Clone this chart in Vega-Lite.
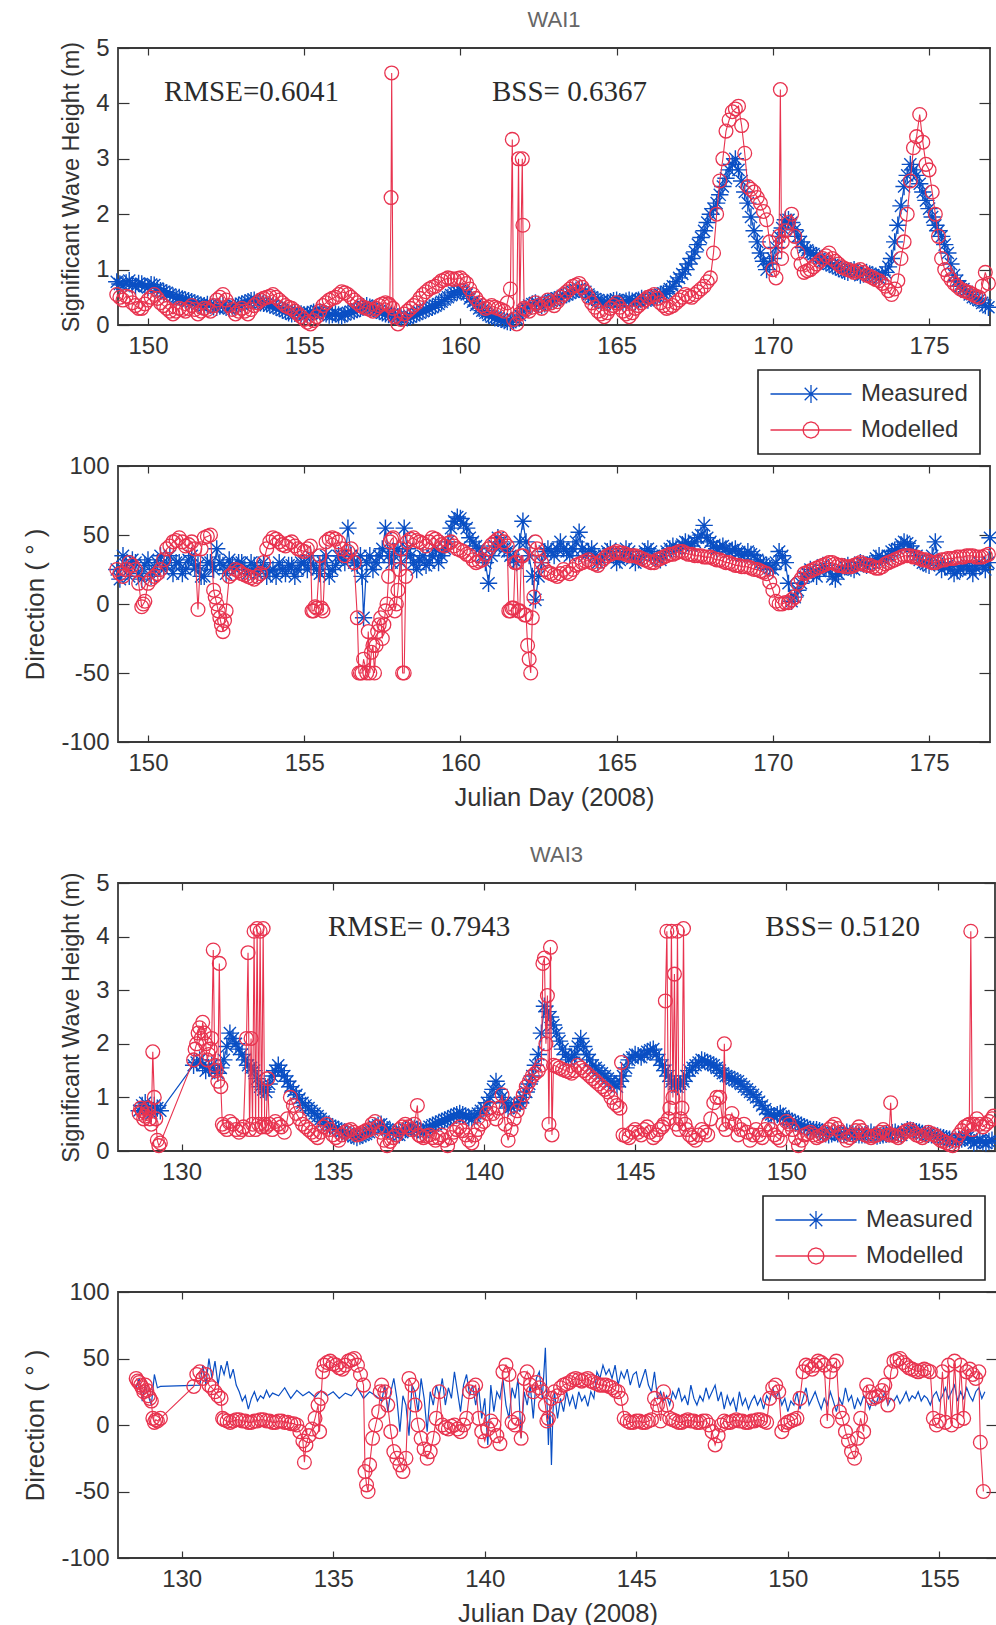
{
"$schema":"https://vega.github.io/schema/vega-lite/v6.json",
"background":"white",
"padding":{"left":22,"top":8,"right":2,"bottom":2},
"spacing":141,
"bounds":"flush",
"resolve":{"scale":{"color":"independent"},"legend":{"color":"independent"}},
"datasets":{
"h1m":[{"d":149,"v":0.78},{"d":149.1,"v":0.74},{"d":149.2,"v":0.72},{"d":149.3,"v":0.76},{"d":149.4,"v":0.8},{"d":149.5,"v":0.73},{"d":149.6,"v":0.7},{"d":149.7,"v":0.75},{"d":149.8,"v":0.74},{"d":149.9,"v":0.7},{"d":150,"v":0.68},{"d":150.1,"v":0.73},{"d":150.2,"v":0.72},{"d":150.3,"v":0.66},{"d":150.4,"v":0.62},{"d":150.5,"v":0.6},{"d":150.6,"v":0.58},{"d":150.7,"v":0.55},{"d":150.8,"v":0.52},{"d":150.9,"v":0.5},{"d":151,"v":0.5},{"d":151.1,"v":0.47},{"d":151.2,"v":0.45},{"d":151.3,"v":0.44},{"d":151.4,"v":0.42},{"d":151.5,"v":0.4},{"d":151.6,"v":0.38},{"d":151.7,"v":0.36},{"d":151.8,"v":0.35},{"d":151.9,"v":0.37},{"d":152,"v":0.36},{"d":152.1,"v":0.33},{"d":152.2,"v":0.32},{"d":152.3,"v":0.34},{"d":152.4,"v":0.35},{"d":152.5,"v":0.32},{"d":152.6,"v":0.3},{"d":152.7,"v":0.33},{"d":152.8,"v":0.34},{"d":152.9,"v":0.36},{"d":153,"v":0.38},{"d":153.1,"v":0.4},{"d":153.2,"v":0.42},{"d":153.3,"v":0.44},{"d":153.4,"v":0.45},{"d":153.5,"v":0.42},{"d":153.6,"v":0.4},{"d":153.7,"v":0.39},{"d":153.8,"v":0.38},{"d":153.9,"v":0.36},{"d":154,"v":0.35},{"d":154.1,"v":0.32},{"d":154.2,"v":0.3},{"d":154.3,"v":0.27},{"d":154.4,"v":0.25},{"d":154.5,"v":0.22},{"d":154.6,"v":0.2},{"d":154.7,"v":0.21},{"d":154.8,"v":0.22},{"d":154.9,"v":0.2},{"d":155,"v":0.18},{"d":155.1,"v":0.19},{"d":155.2,"v":0.2},{"d":155.3,"v":0.23},{"d":155.4,"v":0.25},{"d":155.5,"v":0.24},{"d":155.6,"v":0.22},{"d":155.7,"v":0.2},{"d":155.8,"v":0.18},{"d":155.9,"v":0.19},{"d":156,"v":0.2},{"d":156.1,"v":0.18},{"d":156.2,"v":0.16},{"d":156.3,"v":0.19},{"d":156.4,"v":0.22},{"d":156.5,"v":0.24},{"d":156.6,"v":0.25},{"d":156.7,"v":0.28},{"d":156.8,"v":0.3},{"d":156.9,"v":0.33},{"d":157,"v":0.35},{"d":157.1,"v":0.32},{"d":157.2,"v":0.3},{"d":157.3,"v":0.27},{"d":157.4,"v":0.25},{"d":157.5,"v":0.22},{"d":157.6,"v":0.2},{"d":157.7,"v":0.19},{"d":157.8,"v":0.18},{"d":157.9,"v":0.16},{"d":158,"v":0.15},{"d":158.1,"v":0.13},{"d":158.2,"v":0.12},{"d":158.3,"v":0.13},{"d":158.4,"v":0.15},{"d":158.5,"v":0.18},{"d":158.6,"v":0.2},{"d":158.7,"v":0.22},{"d":158.8,"v":0.25},{"d":158.9,"v":0.28},{"d":159,"v":0.3},{"d":159.1,"v":0.32},{"d":159.2,"v":0.35},{"d":159.3,"v":0.38},{"d":159.4,"v":0.42},{"d":159.5,"v":0.46},{"d":159.6,"v":0.5},{"d":159.7,"v":0.54},{"d":159.8,"v":0.58},{"d":159.9,"v":0.6},{"d":160,"v":0.62},{"d":160.1,"v":0.6},{"d":160.2,"v":0.55},{"d":160.3,"v":0.48},{"d":160.4,"v":0.42},{"d":160.5,"v":0.36},{"d":160.6,"v":0.3},{"d":160.7,"v":0.26},{"d":160.8,"v":0.22},{"d":160.9,"v":0.18},{"d":161,"v":0.15},{"d":161.1,"v":0.13},{"d":161.2,"v":0.12},{"d":161.3,"v":0.1},{"d":161.4,"v":0.08},{"d":161.5,"v":0.06},{"d":161.6,"v":0.05},{"d":161.7,"v":0.08},{"d":161.8,"v":0.12},{"d":161.9,"v":0.18},{"d":162,"v":0.25},{"d":162.1,"v":0.3},{"d":162.2,"v":0.35},{"d":162.3,"v":0.38},{"d":162.4,"v":0.4},{"d":162.5,"v":0.37},{"d":162.6,"v":0.35},{"d":162.7,"v":0.38},{"d":162.8,"v":0.42},{"d":162.9,"v":0.44},{"d":163,"v":0.45},{"d":163.1,"v":0.48},{"d":163.2,"v":0.5},{"d":163.3,"v":0.52},{"d":163.4,"v":0.55},{"d":163.5,"v":0.58},{"d":163.6,"v":0.6},{"d":163.7,"v":0.63},{"d":163.8,"v":0.65},{"d":163.9,"v":0.63},{"d":164,"v":0.6},{"d":164.1,"v":0.55},{"d":164.2,"v":0.5},{"d":164.3,"v":0.47},{"d":164.4,"v":0.45},{"d":164.5,"v":0.42},{"d":164.6,"v":0.4},{"d":164.7,"v":0.41},{"d":164.8,"v":0.42},{"d":164.9,"v":0.44},{"d":165,"v":0.45},{"d":165.1,"v":0.42},{"d":165.2,"v":0.4},{"d":165.3,"v":0.43},{"d":165.4,"v":0.45},{"d":165.5,"v":0.43},{"d":165.6,"v":0.42},{"d":165.7,"v":0.45},{"d":165.8,"v":0.48},{"d":165.9,"v":0.46},{"d":166,"v":0.45},{"d":166.1,"v":0.48},{"d":166.2,"v":0.5},{"d":166.3,"v":0.52},{"d":166.4,"v":0.55},{"d":166.5,"v":0.57},{"d":166.6,"v":0.6},{"d":166.7,"v":0.65},{"d":166.8,"v":0.7},{"d":166.9,"v":0.78},{"d":167,"v":0.85},{"d":167.1,"v":0.92},{"d":167.2,"v":1},{"d":167.3,"v":1.1},{"d":167.4,"v":1.2},{"d":167.5,"v":1.32},{"d":167.6,"v":1.45},{"d":167.7,"v":1.58},{"d":167.8,"v":1.7},{"d":167.9,"v":1.85},{"d":168,"v":2},{"d":168.1,"v":2.1},{"d":168.2,"v":2.2},{"d":168.3,"v":2.35},{"d":168.4,"v":2.5},{"d":168.5,"v":2.65},{"d":168.6,"v":2.8},{"d":168.7,"v":2.9},{"d":168.8,"v":3},{"d":168.9,"v":2.8},{"d":169,"v":2.6},{"d":169.1,"v":2.4},{"d":169.2,"v":2.2},{"d":169.3,"v":1.95},{"d":169.4,"v":1.7},{"d":169.5,"v":1.5},{"d":169.6,"v":1.3},{"d":169.7,"v":1.15},{"d":169.8,"v":1},{"d":169.9,"v":1.1},{"d":170,"v":1.2},{"d":170.1,"v":1.4},{"d":170.2,"v":1.6},{"d":170.3,"v":1.75},{"d":170.4,"v":1.9},{"d":170.5,"v":1.9},{"d":170.6,"v":1.85},{"d":170.7,"v":1.72},{"d":170.8,"v":1.6},{"d":170.9,"v":1.5},{"d":171,"v":1.4},{"d":171.1,"v":1.35},{"d":171.2,"v":1.3},{"d":171.3,"v":1.28},{"d":171.4,"v":1.25},{"d":171.5,"v":1.2},{"d":171.6,"v":1.15},{"d":171.7,"v":1.12},{"d":171.8,"v":1.1},{"d":171.9,"v":1.08},{"d":172,"v":1.05},{"d":172.1,"v":1.02},{"d":172.2,"v":1},{"d":172.3,"v":0.97},{"d":172.4,"v":0.95},{"d":172.5,"v":0.98},{"d":172.6,"v":1},{"d":172.7,"v":0.95},{"d":172.8,"v":0.9},{"d":172.9,"v":0.92},{"d":173,"v":0.95},{"d":173.1,"v":0.92},{"d":173.2,"v":0.9},{"d":173.3,"v":0.88},{"d":173.4,"v":0.85},{"d":173.5,"v":0.9},{"d":173.6,"v":0.95},{"d":173.7,"v":1.05},{"d":173.8,"v":1.2},{"d":173.9,"v":1.5},{"d":174,"v":1.8},{"d":174.1,"v":2.15},{"d":174.2,"v":2.5},{"d":174.3,"v":2.7},{"d":174.4,"v":2.9},{"d":174.5,"v":2.8},{"d":174.6,"v":2.7},{"d":174.7,"v":2.55},{"d":174.8,"v":2.4},{"d":174.9,"v":2.25},{"d":175,"v":2.1},{"d":175.1,"v":1.95},{"d":175.2,"v":1.8},{"d":175.3,"v":1.7},{"d":175.4,"v":1.6},{"d":175.5,"v":1.45},{"d":175.6,"v":1.3},{"d":175.7,"v":1.1},{"d":175.8,"v":0.9},{"d":175.9,"v":0.8},{"d":176,"v":0.7},{"d":176.1,"v":0.65},{"d":176.2,"v":0.6},{"d":176.3,"v":0.55},{"d":176.4,"v":0.5},{"d":176.5,"v":0.48},{"d":176.6,"v":0.45},{"d":176.7,"v":0.4},{"d":176.8,"v":0.35},{"d":176.9,"v":0.32}],
"h1o":[{"d":149,"v":0.55},{"d":149.1,"v":0.5},{"d":149.2,"v":0.45},{"d":149.3,"v":0.52},{"d":149.4,"v":0.5},{"d":149.5,"v":0.4},{"d":149.6,"v":0.35},{"d":149.7,"v":0.3},{"d":149.8,"v":0.3},{"d":149.9,"v":0.38},{"d":150,"v":0.45},{"d":150.1,"v":0.5},{"d":150.2,"v":0.55},{"d":150.3,"v":0.48},{"d":150.4,"v":0.4},{"d":150.5,"v":0.35},{"d":150.6,"v":0.3},{"d":150.7,"v":0.25},{"d":150.8,"v":0.2},{"d":150.9,"v":0.25},{"d":151,"v":0.3},{"d":151.1,"v":0.28},{"d":151.2,"v":0.25},{"d":151.3,"v":0.3},{"d":151.4,"v":0.35},{"d":151.5,"v":0.28},{"d":151.6,"v":0.2},{"d":151.7,"v":0.25},{"d":151.8,"v":0.3},{"d":151.9,"v":0.28},{"d":152,"v":0.25},{"d":152.1,"v":0.35},{"d":152.2,"v":0.45},{"d":152.3,"v":0.5},{"d":152.4,"v":0.55},{"d":152.5,"v":0.45},{"d":152.6,"v":0.35},{"d":152.7,"v":0.28},{"d":152.8,"v":0.2},{"d":152.9,"v":0.25},{"d":153,"v":0.3},{"d":153.1,"v":0.25},{"d":153.2,"v":0.2},{"d":153.3,"v":0.28},{"d":153.4,"v":0.35},{"d":153.5,"v":0.4},{"d":153.6,"v":0.45},{"d":153.7,"v":0.48},{"d":153.8,"v":0.5},{"d":153.9,"v":0.52},{"d":154,"v":0.55},{"d":154.1,"v":0.5},{"d":154.2,"v":0.45},{"d":154.3,"v":0.4},{"d":154.4,"v":0.35},{"d":154.5,"v":0.32},{"d":154.6,"v":0.3},{"d":154.7,"v":0.25},{"d":154.8,"v":0.2},{"d":154.9,"v":0.15},{"d":155,"v":0.1},{"d":155.1,"v":0.05},{"d":155.2,"v":0.02},{"d":155.3,"v":0.08},{"d":155.4,"v":0.15},{"d":155.5,"v":0.25},{"d":155.6,"v":0.35},{"d":155.7,"v":0.4},{"d":155.8,"v":0.45},{"d":155.9,"v":0.48},{"d":156,"v":0.5},{"d":156.1,"v":0.55},{"d":156.2,"v":0.6},{"d":156.3,"v":0.58},{"d":156.4,"v":0.55},{"d":156.5,"v":0.5},{"d":156.6,"v":0.45},{"d":156.7,"v":0.4},{"d":156.8,"v":0.35},{"d":156.9,"v":0.32},{"d":157,"v":0.3},{"d":157.1,"v":0.28},{"d":157.2,"v":0.25},{"d":157.3,"v":0.3},{"d":157.4,"v":0.35},{"d":157.5,"v":0.38},{"d":157.6,"v":0.4},{"d":157.7,"v":0.38},{"d":157.74,"v":0.35},{"d":157.78,"v":2.3},{"d":157.8,"v":4.55},{"d":157.84,"v":0.3},{"d":157.9,"v":0.15},{"d":158,"v":0.02},{"d":158.1,"v":0.1},{"d":158.2,"v":0.2},{"d":158.3,"v":0.25},{"d":158.4,"v":0.3},{"d":158.5,"v":0.35},{"d":158.6,"v":0.4},{"d":158.7,"v":0.48},{"d":158.8,"v":0.55},{"d":158.9,"v":0.6},{"d":159,"v":0.65},{"d":159.1,"v":0.68},{"d":159.2,"v":0.7},{"d":159.3,"v":0.75},{"d":159.4,"v":0.8},{"d":159.5,"v":0.82},{"d":159.6,"v":0.85},{"d":159.7,"v":0.84},{"d":159.8,"v":0.82},{"d":159.9,"v":0.84},{"d":160,"v":0.85},{"d":160.1,"v":0.8},{"d":160.2,"v":0.75},{"d":160.3,"v":0.65},{"d":160.4,"v":0.55},{"d":160.5,"v":0.48},{"d":160.6,"v":0.4},{"d":160.7,"v":0.35},{"d":160.8,"v":0.3},{"d":160.9,"v":0.32},{"d":161,"v":0.35},{"d":161.1,"v":0.32},{"d":161.2,"v":0.3},{"d":161.3,"v":0.28},{"d":161.4,"v":0.25},{"d":161.5,"v":0.4},{"d":161.6,"v":0.65},{"d":161.66,"v":3.35},{"d":161.7,"v":0.1},{"d":161.8,"v":0.02},{"d":161.86,"v":3},{"d":161.9,"v":0.2},{"d":161.98,"v":3},{"d":162,"v":1.8},{"d":162.04,"v":0.3},{"d":162.1,"v":0.28},{"d":162.2,"v":0.25},{"d":162.3,"v":0.32},{"d":162.4,"v":0.4},{"d":162.5,"v":0.35},{"d":162.6,"v":0.3},{"d":162.7,"v":0.38},{"d":162.8,"v":0.45},{"d":162.9,"v":0.4},{"d":163,"v":0.35},{"d":163.1,"v":0.42},{"d":163.2,"v":0.5},{"d":163.3,"v":0.55},{"d":163.4,"v":0.6},{"d":163.5,"v":0.65},{"d":163.6,"v":0.7},{"d":163.7,"v":0.72},{"d":163.8,"v":0.75},{"d":163.9,"v":0.68},{"d":164,"v":0.6},{"d":164.1,"v":0.5},{"d":164.2,"v":0.4},{"d":164.3,"v":0.32},{"d":164.4,"v":0.25},{"d":164.5,"v":0.2},{"d":164.6,"v":0.15},{"d":164.7,"v":0.22},{"d":164.8,"v":0.3},{"d":164.9,"v":0.35},{"d":165,"v":0.4},{"d":165.1,"v":0.32},{"d":165.2,"v":0.25},{"d":165.3,"v":0.2},{"d":165.4,"v":0.15},{"d":165.5,"v":0.22},{"d":165.6,"v":0.3},{"d":165.7,"v":0.35},{"d":165.8,"v":0.4},{"d":165.9,"v":0.45},{"d":166,"v":0.5},{"d":166.1,"v":0.52},{"d":166.2,"v":0.55},{"d":166.3,"v":0.48},{"d":166.4,"v":0.4},{"d":166.5,"v":0.35},{"d":166.6,"v":0.3},{"d":166.7,"v":0.32},{"d":166.8,"v":0.35},{"d":166.9,"v":0.4},{"d":167,"v":0.45},{"d":167.1,"v":0.5},{"d":167.2,"v":0.55},{"d":167.3,"v":0.52},{"d":167.4,"v":0.5},{"d":167.5,"v":0.55},{"d":167.6,"v":0.6},{"d":167.7,"v":0.65},{"d":167.8,"v":0.7},{"d":167.9,"v":0.78},{"d":168,"v":0.85},{"d":168.1,"v":1.3},{"d":168.2,"v":2},{"d":168.3,"v":2.6},{"d":168.4,"v":3},{"d":168.5,"v":3.5},{"d":168.6,"v":3.7},{"d":168.7,"v":3.85},{"d":168.8,"v":3.9},{"d":168.9,"v":3.95},{"d":169,"v":3.6},{"d":169.1,"v":3.1},{"d":169.2,"v":2.5},{"d":169.3,"v":2.45},{"d":169.4,"v":2.4},{"d":169.5,"v":2.3},{"d":169.6,"v":2.2},{"d":169.7,"v":2.05},{"d":169.8,"v":1.9},{"d":169.9,"v":1.5},{"d":170,"v":1},{"d":170.1,"v":0.85},{"d":170.2,"v":1.6},{"d":170.24,"v":4.25},{"d":170.28,"v":1.2},{"d":170.3,"v":1.5},{"d":170.4,"v":1.7},{"d":170.5,"v":1.85},{"d":170.6,"v":2},{"d":170.7,"v":1.6},{"d":170.8,"v":1.3},{"d":170.9,"v":1.1},{"d":171,"v":0.95},{"d":171.1,"v":0.98},{"d":171.2,"v":1},{"d":171.3,"v":1.05},{"d":171.4,"v":1.1},{"d":171.5,"v":1.15},{"d":171.6,"v":1.2},{"d":171.7,"v":1.25},{"d":171.8,"v":1.3},{"d":171.9,"v":1.2},{"d":172,"v":1.15},{"d":172.1,"v":1.1},{"d":172.2,"v":1.05},{"d":172.3,"v":1.02},{"d":172.4,"v":1},{"d":172.5,"v":0.98},{"d":172.6,"v":0.95},{"d":172.7,"v":0.98},{"d":172.8,"v":1},{"d":172.9,"v":0.95},{"d":173,"v":0.9},{"d":173.1,"v":0.88},{"d":173.2,"v":0.85},{"d":173.3,"v":0.82},{"d":173.4,"v":0.8},{"d":173.5,"v":0.75},{"d":173.6,"v":0.7},{"d":173.7,"v":0.62},{"d":173.8,"v":0.55},{"d":173.9,"v":0.65},{"d":174,"v":0.8},{"d":174.1,"v":1.2},{"d":174.2,"v":1.5},{"d":174.3,"v":2},{"d":174.4,"v":2.6},{"d":174.5,"v":3.2},{"d":174.6,"v":3.4},{"d":174.7,"v":3.8},{"d":174.8,"v":3.3},{"d":174.9,"v":2.9},{"d":175,"v":2.8},{"d":175.1,"v":2.4},{"d":175.2,"v":2},{"d":175.3,"v":1.6},{"d":175.4,"v":1.2},{"d":175.5,"v":1},{"d":175.6,"v":0.9},{"d":175.7,"v":0.82},{"d":175.8,"v":0.75},{"d":175.9,"v":0.7},{"d":176,"v":0.65},{"d":176.1,"v":0.62},{"d":176.2,"v":0.6},{"d":176.3,"v":0.58},{"d":176.4,"v":0.55},{"d":176.5,"v":0.52},{"d":176.6,"v":0.5},{"d":176.7,"v":0.7},{"d":176.8,"v":0.95},{"d":176.9,"v":0.75}],
"d1m":[{"d":149,"v":25},{"d":149.1,"v":18},{"d":149.2,"v":35},{"d":149.3,"v":28},{"d":149.4,"v":20},{"d":149.5,"v":32},{"d":149.6,"v":30},{"d":149.7,"v":22},{"d":149.8,"v":18},{"d":149.9,"v":28},{"d":150,"v":32},{"d":150.1,"v":20},{"d":150.2,"v":25},{"d":150.3,"v":30},{"d":150.4,"v":35},{"d":150.5,"v":25},{"d":150.6,"v":28},{"d":150.7,"v":35},{"d":150.8,"v":22},{"d":150.9,"v":30},{"d":151,"v":30},{"d":151.1,"v":22},{"d":151.2,"v":25},{"d":151.3,"v":32},{"d":151.4,"v":35},{"d":151.5,"v":26},{"d":151.6,"v":28},{"d":151.7,"v":20},{"d":151.8,"v":20},{"d":151.9,"v":30},{"d":152,"v":30},{"d":152.1,"v":25},{"d":152.2,"v":40},{"d":152.3,"v":30},{"d":152.4,"v":28},{"d":152.5,"v":22},{"d":152.6,"v":32},{"d":152.7,"v":28},{"d":152.8,"v":25},{"d":152.9,"v":30},{"d":153,"v":30},{"d":153.1,"v":25},{"d":153.2,"v":22},{"d":153.3,"v":30},{"d":153.4,"v":28},{"d":153.5,"v":22},{"d":153.6,"v":25},{"d":153.7,"v":30},{"d":153.8,"v":20},{"d":153.9,"v":24},{"d":154,"v":25},{"d":154.1,"v":20},{"d":154.2,"v":30},{"d":154.3,"v":25},{"d":154.4,"v":22},{"d":154.5,"v":28},{"d":154.6,"v":28},{"d":154.7,"v":20},{"d":154.8,"v":25},{"d":154.9,"v":30},{"d":155,"v":30},{"d":155.1,"v":25},{"d":155.2,"v":35},{"d":155.3,"v":28},{"d":155.4,"v":25},{"d":155.5,"v":22},{"d":155.6,"v":30},{"d":155.7,"v":35},{"d":155.8,"v":20},{"d":155.9,"v":25},{"d":156,"v":28},{"d":156.1,"v":35},{"d":156.2,"v":35},{"d":156.3,"v":30},{"d":156.4,"v":55},{"d":156.5,"v":35},{"d":156.6,"v":30},{"d":156.7,"v":28},{"d":156.8,"v":35},{"d":156.85,"v":20},{"d":156.9,"v":-10},{"d":157,"v":30},{"d":157.1,"v":35},{"d":157.2,"v":25},{"d":157.3,"v":30},{"d":157.4,"v":35},{"d":157.5,"v":40},{"d":157.6,"v":55},{"d":157.7,"v":35},{"d":157.8,"v":30},{"d":157.9,"v":38},{"d":158,"v":40},{"d":158.1,"v":30},{"d":158.2,"v":55},{"d":158.3,"v":40},{"d":158.4,"v":35},{"d":158.5,"v":30},{"d":158.6,"v":25},{"d":158.7,"v":32},{"d":158.8,"v":35},{"d":158.9,"v":28},{"d":159,"v":30},{"d":159.1,"v":35},{"d":159.2,"v":40},{"d":159.3,"v":30},{"d":159.4,"v":35},{"d":159.5,"v":40},{"d":159.6,"v":45},{"d":159.7,"v":55},{"d":159.8,"v":60},{"d":159.9,"v":63},{"d":160,"v":62},{"d":160.1,"v":58},{"d":160.2,"v":55},{"d":160.3,"v":48},{"d":160.4,"v":45},{"d":160.5,"v":42},{"d":160.6,"v":40},{"d":160.7,"v":35},{"d":160.8,"v":30},{"d":160.9,"v":15},{"d":161,"v":35},{"d":161.1,"v":42},{"d":161.2,"v":48},{"d":161.3,"v":45},{"d":161.4,"v":40},{"d":161.5,"v":38},{"d":161.6,"v":35},{"d":161.7,"v":32},{"d":161.8,"v":30},{"d":161.9,"v":45},{"d":162,"v":60},{"d":162.1,"v":45},{"d":162.2,"v":35},{"d":162.3,"v":20},{"d":162.4,"v":3},{"d":162.5,"v":20},{"d":162.6,"v":30},{"d":162.7,"v":38},{"d":162.8,"v":40},{"d":162.9,"v":38},{"d":163,"v":35},{"d":163.1,"v":40},{"d":163.2,"v":45},{"d":163.3,"v":40},{"d":163.4,"v":38},{"d":163.5,"v":35},{"d":163.6,"v":40},{"d":163.7,"v":45},{"d":163.8,"v":52},{"d":163.9,"v":40},{"d":164,"v":35},{"d":164.1,"v":38},{"d":164.2,"v":40},{"d":164.3,"v":35},{"d":164.4,"v":30},{"d":164.5,"v":32},{"d":164.6,"v":35},{"d":164.7,"v":38},{"d":164.8,"v":40},{"d":164.9,"v":35},{"d":165,"v":30},{"d":165.1,"v":32},{"d":165.2,"v":35},{"d":165.3,"v":40},{"d":165.4,"v":38},{"d":165.5,"v":33},{"d":165.6,"v":30},{"d":165.7,"v":32},{"d":165.8,"v":35},{"d":165.9,"v":38},{"d":166,"v":40},{"d":166.1,"v":38},{"d":166.2,"v":35},{"d":166.3,"v":33},{"d":166.4,"v":32},{"d":166.5,"v":35},{"d":166.6,"v":38},{"d":166.7,"v":40},{"d":166.8,"v":42},{"d":166.9,"v":40},{"d":167,"v":40},{"d":167.1,"v":43},{"d":167.2,"v":45},{"d":167.3,"v":44},{"d":167.4,"v":42},{"d":167.5,"v":45},{"d":167.6,"v":48},{"d":167.7,"v":50},{"d":167.8,"v":57},{"d":167.9,"v":48},{"d":168,"v":45},{"d":168.1,"v":42},{"d":168.2,"v":40},{"d":168.3,"v":41},{"d":168.4,"v":42},{"d":168.5,"v":40},{"d":168.6,"v":38},{"d":168.7,"v":39},{"d":168.8,"v":40},{"d":168.9,"v":37},{"d":169,"v":35},{"d":169.1,"v":36},{"d":169.2,"v":38},{"d":169.3,"v":36},{"d":169.4,"v":35},{"d":169.5,"v":32},{"d":169.6,"v":30},{"d":169.7,"v":29},{"d":169.8,"v":28},{"d":169.9,"v":26},{"d":170,"v":25},{"d":170.1,"v":30},{"d":170.2,"v":38},{"d":170.3,"v":35},{"d":170.4,"v":30},{"d":170.5,"v":15},{"d":170.6,"v":2},{"d":170.7,"v":5},{"d":170.8,"v":10},{"d":170.9,"v":15},{"d":171,"v":20},{"d":171.1,"v":22},{"d":171.2,"v":25},{"d":171.3,"v":22},{"d":171.4,"v":20},{"d":171.5,"v":24},{"d":171.6,"v":28},{"d":171.7,"v":26},{"d":171.8,"v":25},{"d":171.9,"v":20},{"d":172,"v":18},{"d":172.1,"v":22},{"d":172.2,"v":25},{"d":172.3,"v":27},{"d":172.4,"v":28},{"d":172.5,"v":26},{"d":172.6,"v":25},{"d":172.7,"v":28},{"d":172.8,"v":30},{"d":172.9,"v":29},{"d":173,"v":28},{"d":173.1,"v":29},{"d":173.2,"v":30},{"d":173.3,"v":33},{"d":173.4,"v":35},{"d":173.5,"v":33},{"d":173.6,"v":32},{"d":173.7,"v":35},{"d":173.8,"v":38},{"d":173.9,"v":39},{"d":174,"v":40},{"d":174.1,"v":43},{"d":174.2,"v":45},{"d":174.3,"v":44},{"d":174.4,"v":42},{"d":174.5,"v":38},{"d":174.6,"v":35},{"d":174.7,"v":32},{"d":174.8,"v":30},{"d":174.9,"v":29},{"d":175,"v":28},{"d":175.1,"v":35},{"d":175.2,"v":45},{"d":175.3,"v":30},{"d":175.4,"v":25},{"d":175.5,"v":27},{"d":175.6,"v":28},{"d":175.7,"v":25},{"d":175.8,"v":22},{"d":175.9,"v":24},{"d":176,"v":25},{"d":176.1,"v":27},{"d":176.2,"v":28},{"d":176.3,"v":25},{"d":176.4,"v":22},{"d":176.5,"v":26},{"d":176.6,"v":30},{"d":176.7,"v":28},{"d":176.8,"v":25},{"d":176.9,"v":30},{"d":176.95,"v":48}],
"d1o":[{"d":149,"v":25},{"d":149.1,"v":22},{"d":149.2,"v":20},{"d":149.3,"v":25},{"d":149.4,"v":30},{"d":149.5,"v":28},{"d":149.6,"v":25},{"d":149.7,"v":15},{"d":149.8,"v":-2},{"d":149.85,"v":0},{"d":149.9,"v":2},{"d":150,"v":15},{"d":150.1,"v":18},{"d":150.2,"v":20},{"d":150.3,"v":22},{"d":150.4,"v":25},{"d":150.5,"v":32},{"d":150.6,"v":40},{"d":150.7,"v":42},{"d":150.8,"v":45},{"d":150.9,"v":46},{"d":151,"v":48},{"d":151.1,"v":45},{"d":151.2,"v":42},{"d":151.3,"v":43},{"d":151.4,"v":45},{"d":151.5,"v":40},{"d":151.6,"v":-4},{"d":151.7,"v":40},{"d":151.8,"v":48},{"d":151.9,"v":49},{"d":152,"v":50},{"d":152.1,"v":10},{"d":152.15,"v":5},{"d":152.2,"v":0},{"d":152.25,"v":-5},{"d":152.3,"v":-10},{"d":152.35,"v":-15},{"d":152.4,"v":-20},{"d":152.45,"v":-12},{"d":152.5,"v":-5},{"d":152.6,"v":20},{"d":152.7,"v":22},{"d":152.8,"v":25},{"d":152.9,"v":24},{"d":153,"v":22},{"d":153.1,"v":21},{"d":153.2,"v":20},{"d":153.3,"v":19},{"d":153.4,"v":18},{"d":153.5,"v":20},{"d":153.6,"v":22},{"d":153.7,"v":30},{"d":153.8,"v":40},{"d":153.9,"v":45},{"d":154,"v":48},{"d":154.1,"v":47},{"d":154.2,"v":45},{"d":154.3,"v":43},{"d":154.4,"v":42},{"d":154.5,"v":44},{"d":154.6,"v":45},{"d":154.7,"v":42},{"d":154.8,"v":40},{"d":154.9,"v":39},{"d":155,"v":38},{"d":155.1,"v":40},{"d":155.2,"v":42},{"d":155.25,"v":-5},{"d":155.3,"v":-5},{"d":155.35,"v":-2},{"d":155.4,"v":-3},{"d":155.5,"v":35},{"d":155.55,"v":-3},{"d":155.6,"v":-5},{"d":155.7,"v":45},{"d":155.8,"v":47},{"d":155.9,"v":48},{"d":156,"v":47},{"d":156.1,"v":45},{"d":156.2,"v":40},{"d":156.3,"v":35},{"d":156.4,"v":38},{"d":156.5,"v":40},{"d":156.6,"v":30},{"d":156.7,"v":-10},{"d":156.75,"v":-50},{"d":156.8,"v":-50},{"d":156.85,"v":-50},{"d":156.9,"v":-40},{"d":157,"v":-50},{"d":157.05,"v":-20},{"d":157.1,"v":-50},{"d":157.15,"v":-35},{"d":157.2,"v":-30},{"d":157.25,"v":-50},{"d":157.3,"v":-30},{"d":157.35,"v":-20},{"d":157.4,"v":-15},{"d":157.45,"v":-10},{"d":157.5,"v":-25},{"d":157.55,"v":-15},{"d":157.6,"v":-5},{"d":157.65,"v":0},{"d":157.7,"v":20},{"d":157.75,"v":45},{"d":157.8,"v":47},{"d":157.85,"v":48},{"d":157.9,"v":-5},{"d":157.95,"v":0},{"d":158,"v":10},{"d":158.05,"v":25},{"d":158.1,"v":40},{"d":158.15,"v":-50},{"d":158.2,"v":-50},{"d":158.25,"v":20},{"d":158.3,"v":45},{"d":158.4,"v":47},{"d":158.5,"v":48},{"d":158.6,"v":46},{"d":158.7,"v":45},{"d":158.8,"v":44},{"d":158.9,"v":42},{"d":159,"v":45},{"d":159.1,"v":48},{"d":159.2,"v":47},{"d":159.3,"v":45},{"d":159.4,"v":43},{"d":159.5,"v":42},{"d":159.6,"v":44},{"d":159.7,"v":45},{"d":159.8,"v":42},{"d":159.9,"v":40},{"d":160,"v":39},{"d":160.1,"v":38},{"d":160.2,"v":36},{"d":160.3,"v":35},{"d":160.4,"v":32},{"d":160.5,"v":30},{"d":160.6,"v":31},{"d":160.7,"v":32},{"d":160.8,"v":36},{"d":160.9,"v":40},{"d":161,"v":43},{"d":161.1,"v":45},{"d":161.2,"v":47},{"d":161.3,"v":48},{"d":161.4,"v":45},{"d":161.5,"v":42},{"d":161.55,"v":-5},{"d":161.6,"v":-5},{"d":161.65,"v":-3},{"d":161.7,"v":-3},{"d":161.75,"v":30},{"d":161.8,"v":30},{"d":161.85,"v":-5},{"d":161.9,"v":-5},{"d":161.95,"v":35},{"d":162,"v":35},{"d":162.05,"v":-8},{"d":162.1,"v":-8},{"d":162.15,"v":-30},{"d":162.2,"v":-40},{"d":162.25,"v":-50},{"d":162.3,"v":-10},{"d":162.35,"v":5},{"d":162.4,"v":45},{"d":162.45,"v":40},{"d":162.5,"v":35},{"d":162.6,"v":30},{"d":162.7,"v":25},{"d":162.8,"v":23},{"d":162.9,"v":22},{"d":163,"v":21},{"d":163.1,"v":20},{"d":163.2,"v":22},{"d":163.3,"v":25},{"d":163.4,"v":23},{"d":163.5,"v":22},{"d":163.6,"v":25},{"d":163.7,"v":28},{"d":163.8,"v":29},{"d":163.9,"v":30},{"d":164,"v":31},{"d":164.1,"v":32},{"d":164.2,"v":30},{"d":164.3,"v":29},{"d":164.4,"v":28},{"d":164.5,"v":31},{"d":164.6,"v":33},{"d":164.7,"v":35},{"d":164.8,"v":36},{"d":164.9,"v":37},{"d":165,"v":38},{"d":165.1,"v":37},{"d":165.2,"v":37},{"d":165.3,"v":36},{"d":165.4,"v":35},{"d":165.5,"v":35},{"d":165.6,"v":35},{"d":165.7,"v":34},{"d":165.8,"v":33},{"d":165.9,"v":32},{"d":166,"v":31},{"d":166.1,"v":30},{"d":166.2,"v":30},{"d":166.3,"v":32},{"d":166.4,"v":33},{"d":166.5,"v":34},{"d":166.6,"v":35},{"d":166.7,"v":36},{"d":166.8,"v":36},{"d":166.9,"v":37},{"d":167,"v":38},{"d":167.1,"v":38},{"d":167.2,"v":37},{"d":167.3,"v":36},{"d":167.4,"v":36},{"d":167.5,"v":35},{"d":167.6,"v":35},{"d":167.7,"v":35},{"d":167.8,"v":34},{"d":167.9,"v":34},{"d":168,"v":34},{"d":168.1,"v":33},{"d":168.2,"v":32},{"d":168.3,"v":32},{"d":168.4,"v":31},{"d":168.5,"v":30},{"d":168.6,"v":30},{"d":168.7,"v":29},{"d":168.8,"v":28},{"d":168.9,"v":28},{"d":169,"v":27},{"d":169.1,"v":27},{"d":169.2,"v":27},{"d":169.3,"v":26},{"d":169.4,"v":25},{"d":169.5,"v":25},{"d":169.6,"v":24},{"d":169.7,"v":23},{"d":169.8,"v":22},{"d":169.9,"v":16},{"d":170,"v":10},{"d":170.1,"v":2},{"d":170.2,"v":0},{"d":170.3,"v":0},{"d":170.4,"v":1},{"d":170.5,"v":1},{"d":170.6,"v":3},{"d":170.7,"v":5},{"d":170.8,"v":15},{"d":170.9,"v":18},{"d":171,"v":22},{"d":171.1,"v":23},{"d":171.2,"v":24},{"d":171.3,"v":25},{"d":171.4,"v":26},{"d":171.5,"v":27},{"d":171.6,"v":28},{"d":171.7,"v":29},{"d":171.8,"v":30},{"d":171.9,"v":30},{"d":172,"v":29},{"d":172.1,"v":28},{"d":172.2,"v":28},{"d":172.3,"v":27},{"d":172.4,"v":27},{"d":172.5,"v":27},{"d":172.6,"v":28},{"d":172.7,"v":29},{"d":172.8,"v":30},{"d":172.9,"v":29},{"d":173,"v":28},{"d":173.1,"v":28},{"d":173.2,"v":27},{"d":173.3,"v":26},{"d":173.4,"v":26},{"d":173.5,"v":27},{"d":173.6,"v":29},{"d":173.7,"v":30},{"d":173.8,"v":31},{"d":173.9,"v":32},{"d":174,"v":33},{"d":174.1,"v":34},{"d":174.2,"v":35},{"d":174.3,"v":35},{"d":174.4,"v":35},{"d":174.5,"v":34},{"d":174.6,"v":34},{"d":174.7,"v":33},{"d":174.8,"v":32},{"d":174.9,"v":32},{"d":175,"v":31},{"d":175.1,"v":30},{"d":175.2,"v":30},{"d":175.3,"v":31},{"d":175.4,"v":32},{"d":175.5,"v":32},{"d":175.6,"v":33},{"d":175.7,"v":33},{"d":175.8,"v":33},{"d":175.9,"v":34},{"d":176,"v":34},{"d":176.1,"v":34},{"d":176.2,"v":35},{"d":176.3,"v":35},{"d":176.4,"v":35},{"d":176.5,"v":34},{"d":176.6,"v":34},{"d":176.7,"v":34},{"d":176.8,"v":35},{"d":176.9,"v":36}],
"h3m":[{"d":128.6,"v":0.75},{"d":128.7,"v":0.85},{"d":128.8,"v":0.9},{"d":128.9,"v":0.8},{"d":129,"v":0.7},{"d":129.1,"v":0.85},{"d":129.2,"v":0.8},{"d":129.3,"v":0.75},{"d":130.4,"v":1.6},{"d":130.5,"v":1.65},{"d":130.6,"v":1.7},{"d":130.7,"v":1.6},{"d":130.8,"v":1.5},{"d":130.9,"v":1.55},{"d":131,"v":1.6},{"d":131.1,"v":1.5},{"d":131.2,"v":1.45},{"d":131.3,"v":1.55},{"d":131.4,"v":1.7},{"d":131.5,"v":1.95},{"d":131.6,"v":2.2},{"d":131.7,"v":2.1},{"d":131.8,"v":2},{"d":131.9,"v":1.9},{"d":132,"v":1.8},{"d":132.1,"v":1.7},{"d":132.2,"v":1.6},{"d":132.3,"v":1.55},{"d":132.4,"v":1.5},{"d":132.5,"v":1.35},{"d":132.6,"v":1.2},{"d":132.7,"v":1.15},{"d":132.8,"v":1.1},{"d":132.9,"v":1.25},{"d":133,"v":1.4},{"d":133.1,"v":1.5},{"d":133.2,"v":1.6},{"d":133.3,"v":1.5},{"d":133.4,"v":1.4},{"d":133.5,"v":1.3},{"d":133.6,"v":1.2},{"d":133.7,"v":1.12},{"d":133.8,"v":1.05},{"d":133.9,"v":0.98},{"d":134,"v":0.9},{"d":134.1,"v":0.85},{"d":134.2,"v":0.8},{"d":134.3,"v":0.75},{"d":134.4,"v":0.7},{"d":134.5,"v":0.65},{"d":134.6,"v":0.6},{"d":134.7,"v":0.55},{"d":134.8,"v":0.5},{"d":134.9,"v":0.47},{"d":135,"v":0.45},{"d":135.1,"v":0.42},{"d":135.2,"v":0.4},{"d":135.3,"v":0.37},{"d":135.4,"v":0.35},{"d":135.5,"v":0.32},{"d":135.6,"v":0.3},{"d":135.7,"v":0.28},{"d":135.8,"v":0.25},{"d":135.9,"v":0.28},{"d":136,"v":0.3},{"d":136.1,"v":0.32},{"d":136.2,"v":0.35},{"d":136.3,"v":0.4},{"d":136.4,"v":0.45},{"d":136.5,"v":0.48},{"d":136.6,"v":0.5},{"d":136.7,"v":0.45},{"d":136.8,"v":0.4},{"d":136.9,"v":0.38},{"d":137,"v":0.35},{"d":137.1,"v":0.32},{"d":137.2,"v":0.3},{"d":137.3,"v":0.35},{"d":137.4,"v":0.4},{"d":137.5,"v":0.42},{"d":137.6,"v":0.45},{"d":137.7,"v":0.42},{"d":137.8,"v":0.4},{"d":137.9,"v":0.38},{"d":138,"v":0.35},{"d":138.1,"v":0.4},{"d":138.2,"v":0.45},{"d":138.3,"v":0.48},{"d":138.4,"v":0.5},{"d":138.5,"v":0.52},{"d":138.6,"v":0.55},{"d":138.7,"v":0.58},{"d":138.8,"v":0.6},{"d":138.9,"v":0.62},{"d":139,"v":0.65},{"d":139.1,"v":0.68},{"d":139.2,"v":0.7},{"d":139.3,"v":0.68},{"d":139.4,"v":0.65},{"d":139.5,"v":0.62},{"d":139.6,"v":0.6},{"d":139.7,"v":0.65},{"d":139.8,"v":0.7},{"d":139.9,"v":0.75},{"d":140,"v":0.8},{"d":140.1,"v":0.9},{"d":140.2,"v":1},{"d":140.3,"v":1.15},{"d":140.4,"v":1.3},{"d":140.5,"v":1.15},{"d":140.6,"v":1},{"d":140.7,"v":0.9},{"d":140.8,"v":0.8},{"d":140.9,"v":0.82},{"d":141,"v":0.85},{"d":141.1,"v":0.88},{"d":141.2,"v":0.9},{"d":141.3,"v":1},{"d":141.4,"v":1.1},{"d":141.5,"v":1.25},{"d":141.6,"v":1.4},{"d":141.7,"v":1.6},{"d":141.8,"v":1.8},{"d":141.9,"v":2.2},{"d":142,"v":2.7},{"d":142.1,"v":2.6},{"d":142.2,"v":2.5},{"d":142.3,"v":2.35},{"d":142.4,"v":2.2},{"d":142.5,"v":2.05},{"d":142.6,"v":1.9},{"d":142.7,"v":1.8},{"d":142.8,"v":1.7},{"d":142.9,"v":1.75},{"d":143,"v":1.8},{"d":143.1,"v":1.95},{"d":143.2,"v":2.1},{"d":143.3,"v":1.95},{"d":143.4,"v":1.8},{"d":143.5,"v":1.7},{"d":143.6,"v":1.6},{"d":143.7,"v":1.55},{"d":143.8,"v":1.5},{"d":143.9,"v":1.45},{"d":144,"v":1.4},{"d":144.1,"v":1.35},{"d":144.2,"v":1.3},{"d":144.3,"v":1.25},{"d":144.4,"v":1.2},{"d":144.5,"v":1.3},{"d":144.6,"v":1.4},{"d":144.7,"v":1.55},{"d":144.8,"v":1.7},{"d":144.9,"v":1.75},{"d":145,"v":1.8},{"d":145.1,"v":1.78},{"d":145.2,"v":1.75},{"d":145.3,"v":1.8},{"d":145.4,"v":1.85},{"d":145.5,"v":1.88},{"d":145.6,"v":1.9},{"d":145.7,"v":1.8},{"d":145.8,"v":1.7},{"d":145.9,"v":1.6},{"d":146,"v":1.5},{"d":146.1,"v":1.4},{"d":146.2,"v":1.3},{"d":146.3,"v":1.25},{"d":146.4,"v":1.2},{"d":146.5,"v":1.25},{"d":146.6,"v":1.3},{"d":146.7,"v":1.4},{"d":146.8,"v":1.5},{"d":146.9,"v":1.55},{"d":147,"v":1.6},{"d":147.1,"v":1.65},{"d":147.2,"v":1.7},{"d":147.3,"v":1.68},{"d":147.4,"v":1.65},{"d":147.5,"v":1.62},{"d":147.6,"v":1.6},{"d":147.7,"v":1.55},{"d":147.8,"v":1.5},{"d":147.9,"v":1.45},{"d":148,"v":1.4},{"d":148.1,"v":1.38},{"d":148.2,"v":1.35},{"d":148.3,"v":1.32},{"d":148.4,"v":1.3},{"d":148.5,"v":1.25},{"d":148.6,"v":1.2},{"d":148.7,"v":1.15},{"d":148.8,"v":1.1},{"d":148.9,"v":1.05},{"d":149,"v":1},{"d":149.1,"v":0.92},{"d":149.2,"v":0.85},{"d":149.3,"v":0.78},{"d":149.4,"v":0.7},{"d":149.5,"v":0.68},{"d":149.6,"v":0.65},{"d":149.7,"v":0.68},{"d":149.8,"v":0.7},{"d":149.9,"v":0.65},{"d":150,"v":0.6},{"d":150.1,"v":0.58},{"d":150.2,"v":0.55},{"d":150.3,"v":0.52},{"d":150.4,"v":0.5},{"d":150.5,"v":0.48},{"d":150.6,"v":0.45},{"d":150.7,"v":0.42},{"d":150.8,"v":0.4},{"d":150.9,"v":0.4},{"d":151,"v":0.4},{"d":151.1,"v":0.38},{"d":151.2,"v":0.35},{"d":151.3,"v":0.32},{"d":151.4,"v":0.3},{"d":151.5,"v":0.32},{"d":151.6,"v":0.35},{"d":151.7,"v":0.32},{"d":151.8,"v":0.3},{"d":151.9,"v":0.32},{"d":152,"v":0.35},{"d":152.1,"v":0.33},{"d":152.2,"v":0.32},{"d":152.3,"v":0.31},{"d":152.4,"v":0.3},{"d":152.5,"v":0.3},{"d":152.6,"v":0.3},{"d":152.7,"v":0.32},{"d":152.8,"v":0.35},{"d":152.9,"v":0.3},{"d":153,"v":0.28},{"d":153.1,"v":0.29},{"d":153.2,"v":0.3},{"d":153.3,"v":0.31},{"d":153.4,"v":0.32},{"d":153.5,"v":0.34},{"d":153.6,"v":0.35},{"d":153.7,"v":0.32},{"d":153.8,"v":0.3},{"d":153.9,"v":0.35},{"d":154,"v":0.4},{"d":154.1,"v":0.39},{"d":154.2,"v":0.38},{"d":154.3,"v":0.36},{"d":154.4,"v":0.35},{"d":154.5,"v":0.33},{"d":154.6,"v":0.32},{"d":154.7,"v":0.31},{"d":154.8,"v":0.3},{"d":154.9,"v":0.29},{"d":155,"v":0.28},{"d":155.1,"v":0.26},{"d":155.2,"v":0.25},{"d":155.3,"v":0.23},{"d":155.4,"v":0.22},{"d":155.5,"v":0.21},{"d":155.6,"v":0.2},{"d":155.7,"v":0.21},{"d":155.8,"v":0.22},{"d":155.9,"v":0.24},{"d":156,"v":0.25},{"d":156.1,"v":0.2},{"d":156.2,"v":0.15},{"d":156.3,"v":0.18},{"d":156.4,"v":0.2},{"d":156.5,"v":0.17},{"d":156.6,"v":0.15},{"d":156.7,"v":0.18},{"d":156.8,"v":0.2}],
"h3o":[{"d":128.6,"v":0.7},{"d":128.65,"v":0.8},{"d":128.7,"v":0.75},{"d":128.75,"v":0.6},{"d":128.8,"v":0.65},{"d":128.85,"v":0.7},{"d":128.9,"v":0.8},{"d":128.95,"v":0.6},{"d":129,"v":0.5},{"d":129.05,"v":1.85},{"d":129.1,"v":1},{"d":129.15,"v":0.6},{"d":129.2,"v":0.2},{"d":129.25,"v":0.1},{"d":129.3,"v":0.15},{"d":130.4,"v":1.7},{"d":130.45,"v":1.9},{"d":130.5,"v":2},{"d":130.55,"v":2.2},{"d":130.6,"v":2.3},{"d":130.65,"v":2.1},{"d":130.7,"v":2.4},{"d":130.75,"v":2.2},{"d":130.8,"v":2},{"d":130.85,"v":1.7},{"d":130.9,"v":1.8},{"d":130.95,"v":1.9},{"d":131,"v":2.1},{"d":131.05,"v":3.75},{"d":131.1,"v":1.6},{"d":131.15,"v":1.5},{"d":131.2,"v":1.3},{"d":131.25,"v":3.5},{"d":131.3,"v":1.2},{"d":131.35,"v":0.5},{"d":131.4,"v":0.45},{"d":131.5,"v":0.4},{"d":131.6,"v":0.55},{"d":131.7,"v":0.5},{"d":131.8,"v":0.4},{"d":131.9,"v":0.35},{"d":132,"v":0.4},{"d":132.05,"v":0.45},{"d":132.15,"v":2.1},{"d":132.2,"v":3.7},{"d":132.25,"v":0.4},{"d":132.3,"v":2.1},{"d":132.35,"v":0.5},{"d":132.4,"v":4.1},{"d":132.45,"v":0.4},{"d":132.5,"v":4.15},{"d":132.55,"v":0.5},{"d":132.6,"v":4.1},{"d":132.65,"v":0.45},{"d":132.7,"v":4.15},{"d":132.75,"v":0.5},{"d":132.8,"v":0.45},{"d":132.85,"v":1.35},{"d":132.9,"v":0.5},{"d":133,"v":0.4},{"d":133.1,"v":0.55},{"d":133.2,"v":0.5},{"d":133.3,"v":0.45},{"d":133.4,"v":0.35},{"d":133.5,"v":0.6},{"d":133.6,"v":1},{"d":133.7,"v":0.85},{"d":133.8,"v":0.7},{"d":133.9,"v":0.6},{"d":134,"v":0.5},{"d":134.1,"v":0.45},{"d":134.2,"v":0.4},{"d":134.3,"v":0.35},{"d":134.4,"v":0.3},{"d":134.5,"v":0.25},{"d":134.6,"v":0.35},{"d":134.7,"v":0.45},{"d":134.8,"v":0.5},{"d":134.9,"v":0.4},{"d":135,"v":0.3},{"d":135.1,"v":0.25},{"d":135.2,"v":0.2},{"d":135.3,"v":0.3},{"d":135.4,"v":0.35},{"d":135.5,"v":0.38},{"d":135.6,"v":0.4},{"d":135.7,"v":0.35},{"d":135.8,"v":0.3},{"d":135.9,"v":0.32},{"d":136,"v":0.35},{"d":136.1,"v":0.38},{"d":136.2,"v":0.4},{"d":136.3,"v":0.5},{"d":136.4,"v":0.55},{"d":136.5,"v":0.45},{"d":136.6,"v":0.35},{"d":136.7,"v":0.2},{"d":136.8,"v":0.1},{"d":136.9,"v":0.18},{"d":137,"v":0.25},{"d":137.1,"v":0.3},{"d":137.2,"v":0.4},{"d":137.3,"v":0.45},{"d":137.4,"v":0.5},{"d":137.5,"v":0.45},{"d":137.6,"v":0.4},{"d":137.7,"v":0.5},{"d":137.8,"v":0.85},{"d":137.85,"v":0.3},{"d":137.9,"v":0.28},{"d":138,"v":0.25},{"d":138.1,"v":0.28},{"d":138.2,"v":0.3},{"d":138.3,"v":0.25},{"d":138.4,"v":0.2},{"d":138.5,"v":0.25},{"d":138.6,"v":0.3},{"d":138.7,"v":0.2},{"d":138.8,"v":0.1},{"d":138.9,"v":0.25},{"d":139,"v":0.35},{"d":139.1,"v":0.4},{"d":139.2,"v":0.45},{"d":139.3,"v":0.38},{"d":139.4,"v":0.3},{"d":139.5,"v":0.2},{"d":139.6,"v":0.15},{"d":139.7,"v":0.3},{"d":139.8,"v":0.4},{"d":139.9,"v":0.5},{"d":140,"v":0.55},{"d":140.1,"v":0.7},{"d":140.2,"v":0.8},{"d":140.3,"v":0.7},{"d":140.4,"v":0.6},{"d":140.5,"v":0.8},{"d":140.6,"v":1.05},{"d":140.7,"v":0.5},{"d":140.8,"v":0.2},{"d":140.9,"v":0.4},{"d":141,"v":0.6},{"d":141.1,"v":0.75},{"d":141.2,"v":0.9},{"d":141.3,"v":1.05},{"d":141.4,"v":1.2},{"d":141.5,"v":1.3},{"d":141.6,"v":1.4},{"d":141.7,"v":1.45},{"d":141.8,"v":1.5},{"d":141.9,"v":1.6},{"d":141.95,"v":3.5},{"d":142,"v":3.6},{"d":142.05,"v":2},{"d":142.1,"v":2.9},{"d":142.15,"v":0.5},{"d":142.2,"v":3.8},{"d":142.25,"v":0.3},{"d":142.3,"v":1.6},{"d":142.4,"v":1.58},{"d":142.5,"v":1.55},{"d":142.6,"v":1.52},{"d":142.7,"v":1.5},{"d":142.8,"v":1.48},{"d":142.9,"v":1.45},{"d":143,"v":1.5},{"d":143.1,"v":1.6},{"d":143.2,"v":1.55},{"d":143.3,"v":1.5},{"d":143.4,"v":1.45},{"d":143.5,"v":1.4},{"d":143.6,"v":1.35},{"d":143.7,"v":1.3},{"d":143.8,"v":1.25},{"d":143.9,"v":1.2},{"d":144,"v":1.15},{"d":144.1,"v":1.1},{"d":144.2,"v":1},{"d":144.3,"v":0.9},{"d":144.4,"v":0.85},{"d":144.5,"v":0.8},{"d":144.55,"v":1.65},{"d":144.6,"v":0.3},{"d":144.7,"v":0.28},{"d":144.8,"v":0.25},{"d":144.9,"v":0.35},{"d":145,"v":0.4},{"d":145.1,"v":0.35},{"d":145.2,"v":0.3},{"d":145.3,"v":0.4},{"d":145.4,"v":0.45},{"d":145.5,"v":0.35},{"d":145.6,"v":0.25},{"d":145.7,"v":0.3},{"d":145.8,"v":0.4},{"d":145.9,"v":0.45},{"d":145.95,"v":0.5},{"d":146,"v":2.8},{"d":146.05,"v":4.1},{"d":146.1,"v":0.6},{"d":146.15,"v":0.8},{"d":146.2,"v":4.1},{"d":146.25,"v":1},{"d":146.3,"v":3.3},{"d":146.35,"v":0.5},{"d":146.4,"v":4.1},{"d":146.45,"v":0.4},{"d":146.5,"v":0.6},{"d":146.55,"v":0.8},{"d":146.6,"v":4.15},{"d":146.65,"v":0.5},{"d":146.7,"v":0.4},{"d":146.8,"v":0.3},{"d":146.9,"v":0.25},{"d":147,"v":0.2},{"d":147.1,"v":0.3},{"d":147.2,"v":0.4},{"d":147.3,"v":0.35},{"d":147.4,"v":0.3},{"d":147.5,"v":0.6},{"d":147.6,"v":0.9},{"d":147.7,"v":1},{"d":147.8,"v":1},{"d":147.9,"v":0.5},{"d":147.95,"v":2},{"d":148,"v":0.4},{"d":148.1,"v":0.55},{"d":148.2,"v":0.7},{"d":148.3,"v":0.5},{"d":148.4,"v":0.3},{"d":148.5,"v":0.4},{"d":148.6,"v":0.5},{"d":148.7,"v":0.35},{"d":148.8,"v":0.2},{"d":148.9,"v":0.3},{"d":149,"v":0.4},{"d":149.1,"v":0.3},{"d":149.2,"v":0.25},{"d":149.3,"v":0.4},{"d":149.4,"v":0.5},{"d":149.5,"v":0.4},{"d":149.6,"v":0.3},{"d":149.7,"v":0.25},{"d":149.8,"v":0.2},{"d":149.9,"v":0.4},{"d":150,"v":0.55},{"d":150.1,"v":0.5},{"d":150.2,"v":0.4},{"d":150.3,"v":0.25},{"d":150.4,"v":0.1},{"d":150.5,"v":0.2},{"d":150.6,"v":0.3},{"d":150.7,"v":0.32},{"d":150.8,"v":0.35},{"d":150.9,"v":0.3},{"d":151,"v":0.25},{"d":151.1,"v":0.28},{"d":151.2,"v":0.3},{"d":151.3,"v":0.35},{"d":151.4,"v":0.4},{"d":151.5,"v":0.45},{"d":151.6,"v":0.5},{"d":151.7,"v":0.42},{"d":151.8,"v":0.35},{"d":151.9,"v":0.28},{"d":152,"v":0.2},{"d":152.1,"v":0.25},{"d":152.2,"v":0.3},{"d":152.3,"v":0.38},{"d":152.4,"v":0.45},{"d":152.5,"v":0.38},{"d":152.6,"v":0.3},{"d":152.7,"v":0.28},{"d":152.8,"v":0.25},{"d":152.9,"v":0.28},{"d":153,"v":0.3},{"d":153.1,"v":0.35},{"d":153.2,"v":0.4},{"d":153.3,"v":0.35},{"d":153.4,"v":0.3},{"d":153.45,"v":0.9},{"d":153.5,"v":0.3},{"d":153.6,"v":0.28},{"d":153.7,"v":0.25},{"d":153.8,"v":0.3},{"d":153.9,"v":0.35},{"d":154,"v":0.38},{"d":154.1,"v":0.4},{"d":154.2,"v":0.35},{"d":154.3,"v":0.3},{"d":154.4,"v":0.28},{"d":154.5,"v":0.25},{"d":154.6,"v":0.3},{"d":154.7,"v":0.35},{"d":154.8,"v":0.32},{"d":154.9,"v":0.3},{"d":155,"v":0.25},{"d":155.1,"v":0.2},{"d":155.2,"v":0.18},{"d":155.3,"v":0.15},{"d":155.4,"v":0.12},{"d":155.5,"v":0.1},{"d":155.6,"v":0.2},{"d":155.7,"v":0.3},{"d":155.8,"v":0.38},{"d":155.9,"v":0.45},{"d":156,"v":0.48},{"d":156.05,"v":0.5},{"d":156.1,"v":4.1},{"d":156.15,"v":0.4},{"d":156.2,"v":0.5},{"d":156.3,"v":0.6},{"d":156.4,"v":0.5},{"d":156.5,"v":0.45},{"d":156.6,"v":0.5},{"d":156.7,"v":0.55},{"d":156.8,"v":0.6},{"d":156.85,"v":0.65}],
"d3m":[{"d":128.5,"v":28},{"d":128.6,"v":35},{"d":128.7,"v":18},{"d":128.8,"v":30},{"d":128.9,"v":22},{"d":129,"v":15},{"d":129.1,"v":38},{"d":129.2,"v":28},{"d":129.3,"v":29},{"d":130.6,"v":30},{"d":130.7,"v":45},{"d":130.8,"v":30},{"d":130.9,"v":50},{"d":131,"v":35},{"d":131.1,"v":48},{"d":131.2,"v":30},{"d":131.3,"v":45},{"d":131.4,"v":38},{"d":131.5,"v":48},{"d":131.6,"v":35},{"d":131.7,"v":42},{"d":131.8,"v":30},{"d":131.9,"v":25},{"d":132,"v":18},{"d":132.1,"v":22},{"d":132.2,"v":12},{"d":132.3,"v":20},{"d":132.4,"v":25},{"d":132.5,"v":18},{"d":132.6,"v":22},{"d":132.7,"v":20},{"d":132.8,"v":26},{"d":132.9,"v":21},{"d":133,"v":24},{"d":133.2,"v":22},{"d":133.4,"v":28},{"d":133.5,"v":24},{"d":133.6,"v":20},{"d":133.8,"v":26},{"d":134,"v":22},{"d":134.2,"v":25},{"d":134.4,"v":21},{"d":134.6,"v":26},{"d":134.8,"v":22},{"d":135,"v":25},{"d":135.2,"v":20},{"d":135.4,"v":24},{"d":135.6,"v":22},{"d":135.8,"v":28},{"d":136,"v":20},{"d":136.2,"v":25},{"d":136.4,"v":22},{"d":136.6,"v":18},{"d":136.7,"v":30},{"d":136.8,"v":10},{"d":136.9,"v":25},{"d":137,"v":35},{"d":137.1,"v":20},{"d":137.2,"v":-5},{"d":137.3,"v":22},{"d":137.4,"v":15},{"d":137.5,"v":-8},{"d":137.6,"v":30},{"d":137.7,"v":25},{"d":137.8,"v":10},{"d":137.9,"v":35},{"d":138,"v":20},{"d":138.1,"v":-5},{"d":138.2,"v":25},{"d":138.3,"v":15},{"d":138.4,"v":30},{"d":138.5,"v":22},{"d":138.6,"v":35},{"d":138.7,"v":15},{"d":138.8,"v":28},{"d":138.9,"v":20},{"d":139,"v":40},{"d":139.1,"v":25},{"d":139.2,"v":10},{"d":139.3,"v":30},{"d":139.4,"v":38},{"d":139.5,"v":22},{"d":139.6,"v":30},{"d":139.7,"v":15},{"d":139.8,"v":28},{"d":139.9,"v":5},{"d":140,"v":20},{"d":140.1,"v":-15},{"d":140.2,"v":30},{"d":140.3,"v":10},{"d":140.4,"v":25},{"d":140.5,"v":20},{"d":140.6,"v":35},{"d":140.7,"v":15},{"d":140.8,"v":5},{"d":140.9,"v":28},{"d":141,"v":20},{"d":141.1,"v":35},{"d":141.2,"v":-10},{"d":141.3,"v":25},{"d":141.4,"v":15},{"d":141.5,"v":30},{"d":141.6,"v":5},{"d":141.7,"v":35},{"d":141.8,"v":40},{"d":141.9,"v":20},{"d":142,"v":58},{"d":142.05,"v":20},{"d":142.1,"v":-15},{"d":142.15,"v":15},{"d":142.2,"v":-30},{"d":142.25,"v":10},{"d":142.3,"v":25},{"d":142.4,"v":5},{"d":142.5,"v":20},{"d":142.6,"v":10},{"d":142.7,"v":25},{"d":142.8,"v":15},{"d":142.9,"v":22},{"d":143,"v":12},{"d":143.1,"v":25},{"d":143.2,"v":18},{"d":143.3,"v":22},{"d":143.4,"v":14},{"d":143.5,"v":25},{"d":143.6,"v":20},{"d":143.7,"v":40},{"d":143.8,"v":35},{"d":143.9,"v":45},{"d":144,"v":38},{"d":144.1,"v":42},{"d":144.2,"v":35},{"d":144.3,"v":45},{"d":144.4,"v":30},{"d":144.5,"v":40},{"d":144.6,"v":35},{"d":144.7,"v":42},{"d":144.8,"v":30},{"d":144.9,"v":38},{"d":145,"v":40},{"d":145.1,"v":28},{"d":145.2,"v":35},{"d":145.3,"v":42},{"d":145.4,"v":30},{"d":145.5,"v":25},{"d":145.6,"v":40},{"d":145.7,"v":20},{"d":145.8,"v":25},{"d":145.9,"v":18},{"d":146,"v":22},{"d":146.1,"v":15},{"d":146.2,"v":25},{"d":146.3,"v":20},{"d":146.4,"v":28},{"d":146.5,"v":18},{"d":146.6,"v":22},{"d":146.7,"v":15},{"d":146.8,"v":30},{"d":146.9,"v":20},{"d":147,"v":15},{"d":147.1,"v":22},{"d":147.2,"v":18},{"d":147.3,"v":28},{"d":147.4,"v":20},{"d":147.5,"v":25},{"d":147.6,"v":30},{"d":147.7,"v":18},{"d":147.8,"v":25},{"d":147.9,"v":12},{"d":148,"v":22},{"d":148.1,"v":15},{"d":148.2,"v":20},{"d":148.3,"v":10},{"d":148.4,"v":25},{"d":148.5,"v":15},{"d":148.6,"v":20},{"d":148.7,"v":12},{"d":148.8,"v":18},{"d":148.9,"v":22},{"d":149,"v":15},{"d":149.1,"v":20},{"d":149.2,"v":12},{"d":149.3,"v":22},{"d":149.4,"v":18},{"d":149.5,"v":28},{"d":149.6,"v":20},{"d":149.7,"v":25},{"d":149.8,"v":15},{"d":149.9,"v":20},{"d":150,"v":10},{"d":150.1,"v":18},{"d":150.2,"v":15},{"d":150.3,"v":25},{"d":150.4,"v":12},{"d":150.5,"v":20},{"d":150.6,"v":28},{"d":150.7,"v":15},{"d":150.8,"v":20},{"d":150.9,"v":25},{"d":151,"v":18},{"d":151.1,"v":12},{"d":151.2,"v":20},{"d":151.3,"v":15},{"d":151.4,"v":25},{"d":151.5,"v":18},{"d":151.6,"v":10},{"d":151.7,"v":20},{"d":151.8,"v":15},{"d":151.9,"v":28},{"d":152,"v":18},{"d":152.1,"v":22},{"d":152.2,"v":12},{"d":152.3,"v":20},{"d":152.4,"v":15},{"d":152.5,"v":22},{"d":152.6,"v":18},{"d":152.7,"v":12},{"d":152.8,"v":20},{"d":152.9,"v":15},{"d":153,"v":22},{"d":153.1,"v":18},{"d":153.2,"v":25},{"d":153.3,"v":15},{"d":153.4,"v":20},{"d":153.5,"v":18},{"d":153.6,"v":22},{"d":153.7,"v":16},{"d":153.8,"v":20},{"d":153.9,"v":25},{"d":154,"v":18},{"d":154.1,"v":22},{"d":154.2,"v":20},{"d":154.3,"v":25},{"d":154.4,"v":18},{"d":154.5,"v":22},{"d":154.6,"v":20},{"d":154.7,"v":15},{"d":154.8,"v":22},{"d":154.9,"v":25},{"d":155,"v":18},{"d":155.1,"v":22},{"d":155.2,"v":28},{"d":155.3,"v":20},{"d":155.4,"v":25},{"d":155.5,"v":30},{"d":155.6,"v":18},{"d":155.7,"v":25},{"d":155.8,"v":20},{"d":155.9,"v":28},{"d":156,"v":22},{"d":156.1,"v":18},{"d":156.2,"v":25},{"d":156.3,"v":28},{"d":156.4,"v":20},{"d":156.5,"v":25}],
"d3o":[{"d":128.5,"v":35},{"d":128.55,"v":33},{"d":128.6,"v":32},{"d":128.65,"v":30},{"d":128.7,"v":28},{"d":128.75,"v":25},{"d":128.8,"v":30},{"d":128.85,"v":26},{"d":128.9,"v":22},{"d":128.95,"v":20},{"d":129,"v":18},{"d":129.05,"v":5},{"d":129.1,"v":2},{"d":129.15,"v":4},{"d":129.2,"v":3},{"d":129.3,"v":5},{"d":130.4,"v":29},{"d":130.5,"v":38},{"d":130.6,"v":40},{"d":130.7,"v":35},{"d":130.8,"v":38},{"d":130.9,"v":30},{"d":131,"v":28},{"d":131.1,"v":25},{"d":131.2,"v":22},{"d":131.3,"v":20},{"d":131.35,"v":5},{"d":131.4,"v":4},{"d":131.5,"v":3},{"d":131.6,"v":2},{"d":131.7,"v":3},{"d":131.8,"v":4},{"d":131.9,"v":4},{"d":132,"v":3},{"d":132.1,"v":3},{"d":132.2,"v":2},{"d":132.3,"v":2},{"d":132.4,"v":3},{"d":132.5,"v":3},{"d":132.6,"v":4},{"d":132.7,"v":4},{"d":132.8,"v":3},{"d":132.9,"v":3},{"d":133,"v":2},{"d":133.1,"v":2},{"d":133.2,"v":3},{"d":133.3,"v":3},{"d":133.4,"v":2},{"d":133.5,"v":2},{"d":133.6,"v":1},{"d":133.7,"v":1},{"d":133.8,"v":0},{"d":133.9,"v":-5},{"d":134,"v":-12},{"d":134.05,"v":-28},{"d":134.1,"v":-15},{"d":134.2,"v":-8},{"d":134.3,"v":-3},{"d":134.4,"v":5},{"d":134.5,"v":15},{"d":134.55,"v":-5},{"d":134.6,"v":20},{"d":134.65,"v":40},{"d":134.7,"v":45},{"d":134.8,"v":47},{"d":134.9,"v":48},{"d":135,"v":46},{"d":135.1,"v":45},{"d":135.2,"v":43},{"d":135.3,"v":42},{"d":135.4,"v":45},{"d":135.5,"v":48},{"d":135.6,"v":49},{"d":135.7,"v":50},{"d":135.8,"v":45},{"d":135.9,"v":38},{"d":136,"v":30},{"d":136.05,"v":-35},{"d":136.1,"v":-45},{"d":136.15,"v":-50},{"d":136.2,"v":-30},{"d":136.3,"v":-10},{"d":136.4,"v":0},{"d":136.5,"v":10},{"d":136.55,"v":25},{"d":136.6,"v":30},{"d":136.7,"v":25},{"d":136.8,"v":15},{"d":136.9,"v":-5},{"d":137,"v":-20},{"d":137.1,"v":-25},{"d":137.2,"v":-30},{"d":137.3,"v":-35},{"d":137.4,"v":-25},{"d":137.5,"v":35},{"d":137.6,"v":30},{"d":137.7,"v":15},{"d":137.8,"v":0},{"d":137.9,"v":-10},{"d":138,"v":-18},{"d":138.1,"v":-25},{"d":138.2,"v":-20},{"d":138.3,"v":-10},{"d":138.4,"v":5},{"d":138.5,"v":25},{"d":138.6,"v":0},{"d":138.7,"v":-2},{"d":138.8,"v":-3},{"d":138.9,"v":-1},{"d":139,"v":0},{"d":139.1,"v":-3},{"d":139.2,"v":-5},{"d":139.3,"v":0},{"d":139.4,"v":5},{"d":139.5,"v":25},{"d":139.6,"v":28},{"d":139.7,"v":30},{"d":139.8,"v":5},{"d":139.9,"v":-5},{"d":140,"v":-12},{"d":140.1,"v":-3},{"d":140.2,"v":3},{"d":140.3,"v":0},{"d":140.4,"v":-8},{"d":140.5,"v":-14},{"d":140.6,"v":40},{"d":140.7,"v":45},{"d":140.8,"v":38},{"d":140.9,"v":2},{"d":141,"v":0},{"d":141.1,"v":5},{"d":141.2,"v":-10},{"d":141.3,"v":35},{"d":141.4,"v":40},{"d":141.5,"v":30},{"d":141.6,"v":25},{"d":141.7,"v":32},{"d":141.8,"v":28},{"d":141.9,"v":25},{"d":142,"v":15},{"d":142.05,"v":3},{"d":142.1,"v":5},{"d":142.2,"v":20},{"d":142.3,"v":25},{"d":142.4,"v":22},{"d":142.5,"v":28},{"d":142.6,"v":30},{"d":142.7,"v":31},{"d":142.8,"v":32},{"d":142.9,"v":34},{"d":143,"v":35},{"d":143.1,"v":34},{"d":143.2,"v":33},{"d":143.3,"v":34},{"d":143.4,"v":35},{"d":143.5,"v":33},{"d":143.6,"v":32},{"d":143.7,"v":31},{"d":143.8,"v":30},{"d":143.9,"v":30},{"d":144,"v":30},{"d":144.1,"v":29},{"d":144.2,"v":28},{"d":144.3,"v":26},{"d":144.4,"v":25},{"d":144.5,"v":20},{"d":144.6,"v":5},{"d":144.7,"v":3},{"d":144.8,"v":2},{"d":144.9,"v":2},{"d":145,"v":3},{"d":145.1,"v":3},{"d":145.2,"v":2},{"d":145.3,"v":2},{"d":145.4,"v":3},{"d":145.5,"v":4},{"d":145.6,"v":20},{"d":145.7,"v":15},{"d":145.8,"v":3},{"d":145.9,"v":25},{"d":146,"v":15},{"d":146.1,"v":5},{"d":146.2,"v":4},{"d":146.3,"v":3},{"d":146.4,"v":2},{"d":146.5,"v":2},{"d":146.6,"v":3},{"d":146.7,"v":4},{"d":146.8,"v":3},{"d":146.9,"v":3},{"d":147,"v":2},{"d":147.1,"v":2},{"d":147.2,"v":3},{"d":147.3,"v":3},{"d":147.4,"v":0},{"d":147.5,"v":-5},{"d":147.6,"v":-15},{"d":147.7,"v":-8},{"d":147.8,"v":0},{"d":147.9,"v":3},{"d":148,"v":2},{"d":148.1,"v":2},{"d":148.2,"v":3},{"d":148.3,"v":4},{"d":148.4,"v":3},{"d":148.5,"v":3},{"d":148.6,"v":2},{"d":148.7,"v":2},{"d":148.8,"v":3},{"d":148.9,"v":3},{"d":149,"v":4},{"d":149.1,"v":4},{"d":149.2,"v":3},{"d":149.3,"v":2},{"d":149.4,"v":20},{"d":149.5,"v":28},{"d":149.6,"v":30},{"d":149.7,"v":25},{"d":149.8,"v":-5},{"d":149.9,"v":0},{"d":150,"v":2},{"d":150.1,"v":3},{"d":150.2,"v":4},{"d":150.3,"v":5},{"d":150.4,"v":20},{"d":150.5,"v":40},{"d":150.6,"v":45},{"d":150.7,"v":44},{"d":150.8,"v":42},{"d":150.9,"v":45},{"d":151,"v":48},{"d":151.1,"v":47},{"d":151.2,"v":45},{"d":151.3,"v":3},{"d":151.4,"v":40},{"d":151.5,"v":45},{"d":151.6,"v":48},{"d":151.7,"v":10},{"d":151.8,"v":5},{"d":151.9,"v":-5},{"d":152,"v":-12},{"d":152.1,"v":-20},{"d":152.2,"v":-25},{"d":152.3,"v":-10},{"d":152.4,"v":5},{"d":152.5,"v":-5},{"d":152.6,"v":30},{"d":152.7,"v":25},{"d":152.8,"v":20},{"d":152.9,"v":21},{"d":153,"v":22},{"d":153.1,"v":26},{"d":153.2,"v":30},{"d":153.3,"v":15},{"d":153.4,"v":40},{"d":153.5,"v":48},{"d":153.6,"v":49},{"d":153.7,"v":50},{"d":153.8,"v":47},{"d":153.9,"v":45},{"d":154,"v":43},{"d":154.1,"v":42},{"d":154.2,"v":41},{"d":154.3,"v":40},{"d":154.4,"v":41},{"d":154.5,"v":42},{"d":154.6,"v":41},{"d":154.7,"v":40},{"d":154.8,"v":5},{"d":154.9,"v":0},{"d":155,"v":3},{"d":155.1,"v":40},{"d":155.2,"v":2},{"d":155.3,"v":45},{"d":155.4,"v":0},{"d":155.5,"v":48},{"d":155.6,"v":3},{"d":155.7,"v":45},{"d":155.8,"v":5},{"d":155.9,"v":40},{"d":156,"v":42},{"d":156.1,"v":38},{"d":156.2,"v":35},{"d":156.3,"v":40},{"d":156.35,"v":-13},{"d":156.45,"v":-50}],
"ann1":[{"d":150.51,"v":4.2,"t":"RMSE=0.6041"},{"d":161.01,"v":4.2,"t":"BSS= 0.6367"}],
"ann3":[{"d":134.84,"v":4.17,"t":"RMSE= 0.7943"},{"d":149.3,"v":4.17,"t":"BSS= 0.5120"}]
},
"vconcat":[
{"width":872,"height":277,"title":{"text":"WAI1"},
"layer":[
{"data":{"name":"h1m"},"mark":{"type":"line","strokeWidth":1.2},"encoding":{
"x":{"field":"d","type":"quantitative","scale":{"domain":[149.04,176.95],"nice":false,"zero":false},"axis":{"orient":"bottom","values":[150,155,160,165,170,175],"title":null,"tickSize":-7,"labelPadding":16}},
"y":{"field":"v","type":"quantitative","scale":{"domain":[0,5],"nice":false,"zero":false},"axis":{"orient":"left","values":[0,1,2,3,4,5],"title":"Significant Wave Height (m)","titleFontSize":23.5,"tickSize":-11,"labelPadding":20,"titlePadding":12}},
"color":{"datum":"Measured","scale":{"domain":["Measured","Modelled"],"range":["#0a4fc4","#e8334f"]},"legend":{"title":null,"orient":"none","legendX":640,"legendY":322,"symbolSize":324,"symbolOffset":29,"symbolStrokeWidth":1.3,"labelFont":"Liberation Sans","labelFontSize":24,"labelColor":"#333","labelOffset":38,"rowPadding":12,"padding":12,"strokeColor":"#222","fillColor":"white","encode":{"symbols":{"update":{"shape":{"signal":"datum.value === 'Measured' ? 'M-4.5,0L4.5,0M0,-1L0,1M-1,0L1,0M-0.7,-0.7L0.7,0.7M-0.7,0.7L0.7,-0.7' : 'M-4.5,0L4.5,0M0.89,0L0.77,0.445L0.445,0.77L0,0.89L-0.445,0.77L-0.77,0.445L-0.89,0L-0.77,-0.445L-0.445,-0.77L0,-0.89L0.445,-0.77L0.77,-0.445Z'"},"fill":{"value":"transparent"}}},"legend":{"update":{"strokeWidth":{"value":1.6}}}}}}
}},
{"data":{"name":"h1m"},"mark":{"type":"point","shape":"M-1,0L1,0M0,-1L0,1M-0.7,-0.7L0.7,0.7M-0.7,0.7L0.7,-0.7","filled":false,"size":300,"strokeWidth":1.4,"color":"#0a4fc4","opacity":1},"encoding":{"x":{"field":"d","type":"quantitative","axis":null},"y":{"field":"v","type":"quantitative","axis":null}}},
{"data":{"name":"h1o"},"mark":{"type":"line","strokeWidth":1.1},"encoding":{
"x":{"field":"d","type":"quantitative","axis":{"orient":"top","values":[150,155,160,165,170,175],"labels":false,"title":null,"tickSize":-7}},
"y":{"field":"v","type":"quantitative","axis":{"orient":"right","values":[0,1,2,3,4,5],"labels":false,"title":null,"tickSize":-11}},
"color":{"datum":"Modelled"}}},
{"data":{"name":"h1o"},"mark":{"type":"point","shape":"circle","filled":false,"size":190,"strokeWidth":1.3,"color":"#e8334f","opacity":1},"encoding":{"x":{"field":"d","type":"quantitative","axis":null},"y":{"field":"v","type":"quantitative","axis":null}}},
{"data":{"name":"ann1"},"mark":{"type":"text","align":"left","baseline":"middle","font":"Liberation Serif","fontSize":29,"color":"#2b2b2b"},"encoding":{"x":{"field":"d","type":"quantitative","axis":null},"y":{"field":"v","type":"quantitative","axis":null},"text":{"field":"t"}}}
],
"resolve":{"axis":{"x":"independent","y":"independent"}}},
{"width":872,"height":276,
"layer":[
{"data":{"name":"d1m"},"mark":{"type":"line","strokeWidth":1.2,"color":"#0a4fc4"},"encoding":{
"x":{"field":"d","type":"quantitative","scale":{"domain":[149.04,176.95],"nice":false,"zero":false},"axis":{"orient":"bottom","values":[150,155,160,165,170,175],"title":"Julian Day (2008)","titleFontSize":25.5,"titlePadding":10,"tickSize":-7,"labelPadding":16}},
"y":{"field":"v","type":"quantitative","scale":{"domain":[-100,100],"nice":false,"zero":false},"axis":{"orient":"left","values":[-100,-50,0,50,100],"labelExpr":"'' + datum.value","title":"Direction ( ° )","titleFontSize":26,"tickSize":-11,"labelPadding":20,"titlePadding":12}}}},
{"data":{"name":"d1m"},"mark":{"type":"point","shape":"M-1,0L1,0M0,-1L0,1M-0.7,-0.7L0.7,0.7M-0.7,0.7L0.7,-0.7","filled":false,"size":300,"strokeWidth":1.4,"color":"#0a4fc4","opacity":1},"encoding":{"x":{"field":"d","type":"quantitative","axis":null},"y":{"field":"v","type":"quantitative","axis":null}}},
{"data":{"name":"d1o"},"mark":{"type":"line","strokeWidth":1.1,"color":"#e8334f"},"encoding":{
"x":{"field":"d","type":"quantitative","axis":{"orient":"top","values":[150,155,160,165,170,175],"labels":false,"title":null,"tickSize":-7}},
"y":{"field":"v","type":"quantitative","axis":{"orient":"right","values":[-100,-50,0,50,100],"labels":false,"title":null,"tickSize":-11}}}},
{"data":{"name":"d1o"},"mark":{"type":"point","shape":"circle","filled":false,"size":190,"strokeWidth":1.3,"color":"#e8334f","opacity":1},"encoding":{"x":{"field":"d","type":"quantitative","axis":null},"y":{"field":"v","type":"quantitative","axis":null}}}
],
"resolve":{"axis":{"x":"independent","y":"independent"}}},
{"width":877,"height":268,"title":{"text":"WAI3"},
"layer":[
{"data":{"name":"h3m"},"mark":{"type":"line","strokeWidth":1.2},"encoding":{
"x":{"field":"d","type":"quantitative","scale":{"domain":[127.9,156.9],"nice":false,"zero":false},"axis":{"orient":"bottom","values":[130,135,140,145,150,155],"title":null,"tickSize":-7,"labelPadding":16}},
"y":{"field":"v","type":"quantitative","scale":{"domain":[0,5],"nice":false,"zero":false},"axis":{"orient":"left","values":[0,1,2,3,4,5],"title":"Significant Wave Height (m)","titleFontSize":23.5,"tickSize":-11,"labelPadding":20,"titlePadding":12}},
"color":{"datum":"Measured","scale":{"domain":["Measured","Modelled"],"range":["#0a4fc4","#e8334f"]},"legend":{"title":null,"orient":"none","legendX":645,"legendY":313,"symbolSize":324,"symbolOffset":29,"symbolStrokeWidth":1.3,"labelFont":"Liberation Sans","labelFontSize":24,"labelColor":"#333","labelOffset":38,"rowPadding":12,"padding":12,"strokeColor":"#222","fillColor":"white","encode":{"symbols":{"update":{"shape":{"signal":"datum.value === 'Measured' ? 'M-4.5,0L4.5,0M0,-1L0,1M-1,0L1,0M-0.7,-0.7L0.7,0.7M-0.7,0.7L0.7,-0.7' : 'M-4.5,0L4.5,0M0.89,0L0.77,0.445L0.445,0.77L0,0.89L-0.445,0.77L-0.77,0.445L-0.89,0L-0.77,-0.445L-0.445,-0.77L0,-0.89L0.445,-0.77L0.77,-0.445Z'"},"fill":{"value":"transparent"}}},"legend":{"update":{"strokeWidth":{"value":1.6}}}}}}
}},
{"data":{"name":"h3m"},"mark":{"type":"point","shape":"M-1,0L1,0M0,-1L0,1M-0.7,-0.7L0.7,0.7M-0.7,0.7L0.7,-0.7","filled":false,"size":300,"strokeWidth":1.4,"color":"#0a4fc4","opacity":1},"encoding":{"x":{"field":"d","type":"quantitative","axis":null},"y":{"field":"v","type":"quantitative","axis":null}}},
{"data":{"name":"h3o"},"mark":{"type":"line","strokeWidth":1.1},"encoding":{
"x":{"field":"d","type":"quantitative","axis":{"orient":"top","values":[130,135,140,145,150,155],"labels":false,"title":null,"tickSize":-7}},
"y":{"field":"v","type":"quantitative","axis":{"orient":"right","values":[0,1,2,3,4,5],"labels":false,"title":null,"tickSize":-11}},
"color":{"datum":"Modelled"}}},
{"data":{"name":"h3o"},"mark":{"type":"point","shape":"circle","filled":false,"size":190,"strokeWidth":1.3,"color":"#e8334f","opacity":1},"encoding":{"x":{"field":"d","type":"quantitative","axis":null},"y":{"field":"v","type":"quantitative","axis":null}}},
{"data":{"name":"ann3"},"mark":{"type":"text","align":"left","baseline":"middle","font":"Liberation Serif","fontSize":29,"color":"#2b2b2b"},"encoding":{"x":{"field":"d","type":"quantitative","axis":null},"y":{"field":"v","type":"quantitative","axis":null},"text":{"field":"t"}}}
],
"resolve":{"axis":{"x":"independent","y":"independent"}}},
{"width":879,"height":266,
"layer":[
{"data":{"name":"d3m"},"mark":{"type":"line","strokeWidth":1.2,"color":"#0a4fc4"},"encoding":{
"x":{"field":"d","type":"quantitative","scale":{"domain":[127.9,156.9],"nice":false,"zero":false},"axis":{"orient":"bottom","values":[130,135,140,145,150,155],"title":"Julian Day (2008)","titleFontSize":25.5,"titlePadding":10,"tickSize":-7,"labelPadding":16}},
"y":{"field":"v","type":"quantitative","scale":{"domain":[-100,100],"nice":false,"zero":false},"axis":{"orient":"left","values":[-100,-50,0,50,100],"labelExpr":"'' + datum.value","title":"Direction ( ° )","titleFontSize":26,"tickSize":-11,"labelPadding":20,"titlePadding":12}}}},
{"data":{"name":"d3o"},"mark":{"type":"line","strokeWidth":1.1,"color":"#e8334f"},"encoding":{
"x":{"field":"d","type":"quantitative","axis":{"orient":"top","values":[130,135,140,145,150,155],"labels":false,"title":null,"tickSize":-7}},
"y":{"field":"v","type":"quantitative","axis":{"orient":"right","values":[-100,-50,0,50,100],"labels":false,"title":null,"tickSize":-11}}}},
{"data":{"name":"d3o"},"mark":{"type":"point","shape":"circle","filled":false,"size":190,"strokeWidth":1.3,"color":"#e8334f","opacity":1},"encoding":{"x":{"field":"d","type":"quantitative","axis":null},"y":{"field":"v","type":"quantitative","axis":null}}}
],
"resolve":{"axis":{"x":"independent","y":"independent"}}}
],
"config":{
"view":{"stroke":"#3a3a3a","strokeWidth":1.8},
"axis":{"grid":false,"domain":false,"tickColor":"#333","tickWidth":1.2,"labelFont":"Liberation Sans","labelFontSize":24,"labelColor":"#333","titleFont":"Liberation Sans","titleFontSize":22,"titleFontWeight":"normal","titleColor":"#333"},
"title":{"font":"Liberation Sans","fontSize":22,"fontWeight":"normal","color":"#666","offset":4}
}
}
